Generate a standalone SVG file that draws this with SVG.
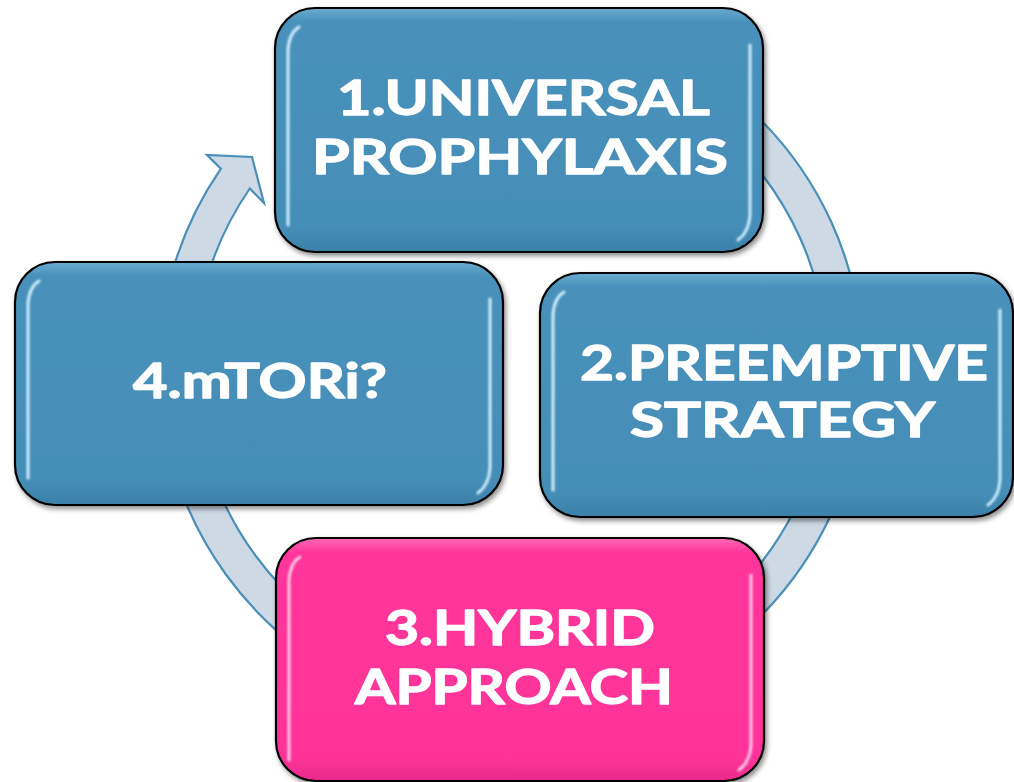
<svg xmlns="http://www.w3.org/2000/svg" width="1014" height="782" viewBox="0 0 1014 782">
<defs>
<style>
.ring{fill:#CDD9E5;stroke:#4A8FB8;stroke-width:2.2;stroke-linejoin:miter}
.box{stroke:#000;stroke-width:2.2}
.blue{fill:url(#gBlue)}
.pink{fill:url(#gPink)}
.hl{fill:none;stroke:#CFEFFF;stroke-width:3;stroke-linecap:round;filter:url(#soft)}
.hlp{fill:none;stroke:#FFC6E6;stroke-width:3;stroke-linecap:round;filter:url(#soft)}
.t{font-family:Lato,"Open Sans","Liberation Sans",sans-serif;font-weight:700;font-size:47px;fill:#fff;stroke:#fff;stroke-width:1.3;stroke-linejoin:round}
</style>
<linearGradient id="gBlue" x1="0" y1="0" x2="0" y2="1">
<stop offset="0" stop-color="#6AAACF"/>
<stop offset="0.06" stop-color="#4891BA"/>
<stop offset="0.9" stop-color="#458EB8"/>
<stop offset="1" stop-color="#3B80A8"/>
</linearGradient>
<linearGradient id="gPink" x1="0" y1="0" x2="0" y2="1">
<stop offset="0" stop-color="#FF6AB5"/>
<stop offset="0.06" stop-color="#FF369B"/>
<stop offset="0.9" stop-color="#FF3399"/>
<stop offset="1" stop-color="#E92A8C"/>
</linearGradient>
<filter id="shadow" x="-5%" y="-5%" width="112%" height="115%">
<feDropShadow dx="2" dy="3" stdDeviation="2.5" flood-color="#000" flood-opacity="0.45"/>
</filter>
<filter id="soft" x="-20%" y="-20%" width="140%" height="140%">
<feGaussianBlur stdDeviation="0.8"/>
</filter>
</defs>
<rect width="1014" height="782" fill="#fff"/>
<g id="connectors">
<path class="ring" d="M541.68,17.34 A352,352 0 0 1 861.66,337.32 L826.79,340.37 A317,317 0 0 0 538.63,52.21 Z"/>
<path class="ring" d="M861.66,398.68 A352,352 0 0 1 541.68,718.66 L538.63,683.79 A317,317 0 0 0 826.79,395.63 Z"/>
<path class="ring" d="M480.32,718.66 A352,352 0 0 1 180.23,488.39 L213.12,476.42 A317,317 0 0 0 483.37,683.79 Z"/>
<path class="ring" d="M170.99,459.10 A352,352 0 0 1 220.9,168.6 L207,155 L252,157 L264,203 L249.8,188.5 A317,317 0 0 0 204.80,450.05 Z"/>
</g>
<g id="node1">
<rect class="box blue" x="275" y="8" width="488" height="244" rx="40" filter="url(#shadow)"/>
<path class="hl" d="M288,225 L288,50 Q289,33 299,27"/>
<path class="hl" d="M750,45 L750,215 Q749,232 738,240"/>
<text class="t" x="337" y="115" textLength="373" lengthAdjust="spacingAndGlyphs">1.UNIVERSAL</text>
<text class="t" x="312" y="174" textLength="416" lengthAdjust="spacingAndGlyphs">PROPHYLAXIS</text>
</g>
<g id="node2">
<rect class="box blue" x="540" y="273" width="473" height="244" rx="40" filter="url(#shadow)"/>
<path class="hl" d="M553,490 L553,315 Q554,298 564,292"/>
<path class="hl" d="M1000,310 L1000,480 Q999,497 988,505"/>
<text class="t" x="580" y="380" textLength="408" lengthAdjust="spacingAndGlyphs">2.PREEMPTIVE</text>
<text class="t" x="630" y="437" textLength="305" lengthAdjust="spacingAndGlyphs">STRATEGY</text>
</g>
<g id="node3">
<rect class="box pink" x="276" y="538" width="488" height="243" rx="40" filter="url(#shadow)"/>
<path class="hlp" d="M289,760 L289,580 Q290,563 300,557"/>
<path class="hlp" d="M751,575 L751,745 Q750,762 739,770"/>
<text class="t" x="385" y="645" textLength="270" lengthAdjust="spacingAndGlyphs">3.HYBRID</text>
<text class="t" x="355" y="704" textLength="318" lengthAdjust="spacingAndGlyphs">APPROACH</text>
</g>
<g id="node4">
<rect class="box blue" x="15" y="262" width="488" height="243" rx="40" filter="url(#shadow)"/>
<path class="hl" d="M28,478 L28,304 Q29,287 39,281"/>
<path class="hl" d="M490,299 L490,468 Q489,485 478,493"/>
<text class="t" x="133" y="398" textLength="254" lengthAdjust="spacingAndGlyphs">4.mTORi?</text>
</g>
</svg>
